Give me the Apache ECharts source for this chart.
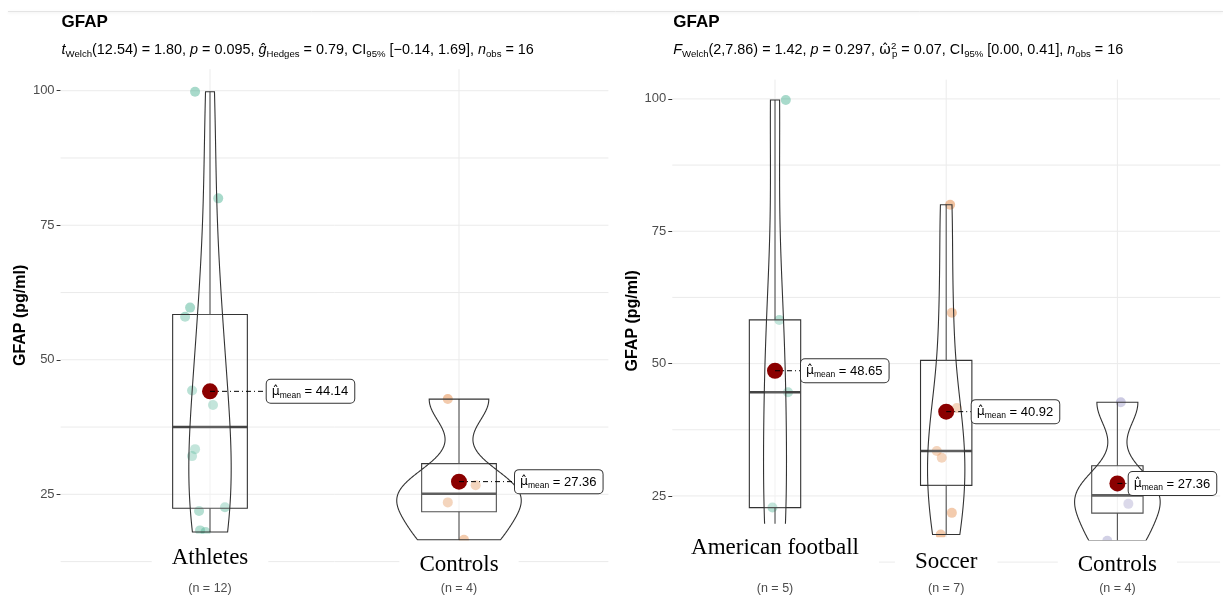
<!DOCTYPE html>
<html>
<head>
<meta charset="utf-8">
<script src="https://cdn.jsdelivr.net/npm/echarts@6/dist/echarts.min.js"></script>
<style>
  html, body { margin: 0; padding: 0; background: #fff; }
  #chart { width: 1223px; height: 596px; }
</style>
</head>
<body>
<div id="chart"></div>
<script>
// ---- data: GFAP (pg/ml) per participant ----
const leftGroups = ['Athletes', 'Controls'];
const leftCounts = ['(n = 12)', '(n = 4)'];
const athletesGFAP = [99.8, 80.0, 59.7, 58.0, 44.3, 41.6, 33.4, 32.1, 21.9, 22.6, 18.3, 18.0];
const controlsGFAP = [42.7, 26.7, 23.5, 16.54];
const leftMeans = [44.14, 27.36];

const rightGroups = ['American football', 'Soccer', 'Controls'];
const rightCounts = ['(n = 5)', '(n = 7)', '(n = 4)'];
const footballGFAP = [99.8, 58.25, 44.6, 22.8, 17.8];
const soccerGFAP = [80.0, 59.6, 41.6, 33.5, 32.2, 21.8, 17.7];
const rightMeans = [48.65, 40.92, 27.36];

const yTicks = [25, 50, 75, 100];
const yGridValues = [12.5, 25, 37.5, 50, 62.5, 75, 87.5, 100];

// horizontal jitter of the raw points, in category widths
const athletesJitter = [-0.06, 0.033, -0.08, -0.1, -0.072, 0.012, -0.06, -0.072, -0.044, 0.06, -0.04, -0.018];
const controlsJitterLeft = [-0.045, 0.067, -0.045, 0.02];
const footballJitter = [0.063, 0.025, 0.076, -0.015, -0.03];
const soccerJitter = [0.023, 0.033, 0.062, -0.055, -0.026, 0.033, -0.032];
const controlsJitterRight = [0.02, 0.0, 0.064, -0.059];

// ---- helpers: quantiles (type 7), bandwidth nrd0, gaussian KDE ----
const FONT = 'Liberation Sans';
const PALETTE = ['#1B9E77', '#D95F02', '#7570B3'];
const sorted = a => a.slice().sort((x, y) => x - y);
function quantile(s, p) {
  const h = (s.length - 1) * p, lo = Math.floor(h), hi = Math.min(lo + 1, s.length - 1);
  return s[lo] + (h - lo) * (s[hi] - s[lo]);
}
function sd(a) {
  const m = a.reduce((s, v) => s + v, 0) / a.length;
  return Math.sqrt(a.reduce((s, v) => s + (v - m) * (v - m), 0) / (a.length - 1));
}
function bwNrd0(a) {
  const s = sorted(a);
  const hi = sd(a);
  let lo = Math.min(hi, (quantile(s, 0.75) - quantile(s, 0.25)) / 1.34);
  if (!(lo > 0)) lo = hi || 1;
  return 0.9 * lo * Math.pow(a.length, -0.2);
}
function density(a, m) {
  const bw = bwNrd0(a), s = sorted(a), lo = s[0], hi = s[s.length - 1];
  const out = [];
  for (let k = 0; k < m; k++) {
    const y = lo + (hi - lo) * k / (m - 1);
    let d = 0;
    for (const v of a) { const z = (y - v) / bw; d += Math.exp(-0.5 * z * z); }
    out.push([y, d / (a.length * bw * Math.sqrt(2 * Math.PI))]);
  }
  return out;
}
function boxStats(a) {
  const s = sorted(a);
  const q1 = quantile(s, 0.25), med = quantile(s, 0.5), q3 = quantile(s, 0.75), iqr = q3 - q1;
  const wLo = Math.min(...s.filter(v => v >= q1 - 1.5 * iqr));
  const wHi = Math.max(...s.filter(v => v <= q3 + 1.5 * iqr));
  return { q1, med, q3, wLo, wHi };
}

// ---- rich text styles ----
const subRich = {
  n: { fontSize: 14.4, fontFamily: FONT, color: '#000', lineHeight: 18 },
  it: { fontSize: 14.4, fontFamily: FONT, fontStyle: 'italic', color: '#000', lineHeight: 18 },
  om: { fontSize: 14.4, fontFamily: 'DejaVu Sans', color: '#000', lineHeight: 18 },
  sub: { fontSize: 9.6, fontFamily: FONT, color: '#000', verticalAlign: 'bottom', lineHeight: 9 },
  subp: { fontSize: 9.6, fontFamily: FONT, color: '#000', verticalAlign: 'bottom', lineHeight: 9 },
  sup: { fontSize: 9.6, fontFamily: FONT, color: '#000', verticalAlign: 'top', lineHeight: 8, width: 1 }
};
const meanRich = {
  mu: { fontSize: 12.5, fontFamily: 'DejaVu Sans', color: '#000', lineHeight: 16 },
  sub: { fontSize: 8.5, fontFamily: FONT, color: '#000', verticalAlign: 'bottom', lineHeight: 8 },
  t: { fontSize: 13, fontFamily: FONT, color: '#000', lineHeight: 16 }
};

const panels = [
  {
    groups: leftGroups, counts: leftCounts, values: [athletesGFAP, controlsGFAP],
    jitter: [athletesJitter, controlsJitterLeft], means: leftMeans, colors: [PALETTE[0], PALETTE[1]],
    yMax: 104, grid: { left: 60.6, top: 69.2, width: 547.8, height: 492.4 },
    labelShift: [56.7, 56], nameDy: [-3.6, 3.4],
    subtitle: '{it|t}{sub|Welch}{n|(12.54) = 1.80, }{it|p}{n| = 0.095, }{it|\u011D}{sub|Hedges}{n| = 0.79, CI}{sub|95%}{n| [\u22120.14, 1.69], }{it|n}{sub|obs}{n| = 16}'
  },
  {
    groups: rightGroups, counts: rightCounts, values: [footballGFAP, soccerGFAP, controlsGFAP],
    jitter: [footballJitter, soccerJitter, controlsJitterRight], means: rightMeans, colors: PALETTE,
    yMax: 103.65, grid: { left: 672.3, top: 79.6, width: 547.8, height: 482.5 },
    labelShift: [26, 25.5, 11.3], nameDy: [-13.8, -0.4, 2.9],
    subtitle: '{it|F}{sub|Welch}{n|(2,7.86) = 1.42, }{it|p}{n| = 0.297, }{om|\u03C9\u0302}{sup|2}{subp|p}{n| = 0.07, CI}{sub|95%}{n| [0.00, 0.41], }{it|n}{sub|obs}{n| = 16}'
  }
];

const grids = [], xAxes = [], yAxes = [], titles = [], series = [];

panels.forEach((P, pi) => {
  const ax = { xAxisIndex: pi, yAxisIndex: pi };
  const k = P.groups.length;
  const cats = P.groups.map((_, i) => i + 1);
  const dens = P.values.map(v => density(v, 512));
  const maxD = Math.max(...dens.map(d => Math.max(...d.map(p => p[1]))));
  const stats = P.values.map(boxStats);

  grids.push(P.grid);
  titles.push({
    text: 'GFAP', left: P.grid.left + 1, top: 14, padding: 0, itemGap: 10,
    textStyle: { fontSize: 17, fontWeight: 'bold', color: '#000', fontFamily: FONT },
    subtext: P.subtitle, subtextStyle: { rich: subRich }
  });
  xAxes.push({
    type: 'value', gridIndex: pi, min: 0.4, max: k + 0.6,
    axisLine: { show: false }, axisTick: { show: false }, splitLine: { show: false },
    axisLabel: {
      customValues: cats, formatter: v => P.counts[Math.round(v) - 1],
      color: '#4D4D4D', fontSize: 12.5, fontFamily: FONT, margin: 20
    }
  });
  yAxes.push({
    type: 'value', gridIndex: pi, min: 12.5, max: P.yMax, interval: 12.5,
    axisLine: { show: false },
    axisTick: { show: true, customValues: yTicks, length: 4, lineStyle: { color: '#333' } },
    axisLabel: { customValues: yTicks, color: '#4D4D4D', fontSize: 13, fontFamily: FONT, margin: 6 },
    splitLine: { show: false },
    name: 'GFAP (pg/ml)', nameLocation: 'middle', nameGap: 32,
    nameTextStyle: { fontSize: 16, fontWeight: 'bold', color: '#000', fontFamily: FONT }
  });

  // horizontal grid lines (major and minor breaks)
  series.push({
    type: 'custom', ...ax, z: 1, silent: true, clip: false,
    data: yGridValues.map(v => [0.4, v]),
    renderItem: (params, api) => {
      const v = api.value(1);
      const a = api.coord([0.4, v]), b = api.coord([k + 0.6, v]);
      return { type: 'line', shape: { x1: a[0], y1: a[1], x2: b[0], y2: b[1] }, style: { stroke: '#EBEBEB', lineWidth: 1 } };
    }
  });

  // vertical grid lines at each group
  series.push({
    type: 'custom', ...ax, z: 1, silent: true, clip: false,
    data: cats.map(c => [c, 12.5]),
    renderItem: (params, api) => {
      const c = api.value(0);
      const a = api.coord([c, 12.5]), b = api.coord([c, P.yMax]);
      return { type: 'line', shape: { x1: a[0], y1: a[1], x2: b[0], y2: b[1] }, style: { stroke: '#EBEBEB', lineWidth: 1 } };
    }
  });

  // raw points
  P.values.forEach((vals, g) => {
    series.push({
      type: 'scatter', ...ax, z: 2, silent: true, symbolSize: 10,
      itemStyle: { color: P.colors[g], opacity: 0.38 },
      data: vals.map((v, j) => [g + 1 + P.jitter[g][j], v])
    });
  });

  // boxplots
  series.push({
    type: 'custom', ...ax, z: 3, silent: true, clip: false,
    data: cats.map((c, i) => [c, stats[i].med]),
    renderItem: (params, api) => {
      const g = params.dataIndex, c = g + 1, s = stats[g], hw = 0.15;
      const tl = api.coord([c - hw, s.q3]), br = api.coord([c + hw, s.q1]);
      const m1 = api.coord([c - hw, s.med]), m2 = api.coord([c + hw, s.med]);
      const wt = api.coord([c, s.wHi]), wb = api.coord([c, s.wLo]);
      const st = { stroke: '#333', lineWidth: 1.1, fill: null };
      return {
        type: 'group', children: [
          { type: 'line', shape: { x1: wt[0], y1: wt[1], x2: wt[0], y2: tl[1] }, style: st },
          { type: 'line', shape: { x1: wb[0], y1: wb[1], x2: wb[0], y2: br[1] }, style: st },
          { type: 'rect', shape: { x: tl[0], y: tl[1], width: br[0] - tl[0], height: br[1] - tl[1] }, style: { stroke: '#333', lineWidth: 1.1, fill: 'rgba(255,255,255,0.2)' } },
          { type: 'line', shape: { x1: m1[0], y1: m1[1], x2: m2[0], y2: m2[1] }, style: { stroke: '#444', lineWidth: 2.6 } }
        ]
      };
    }
  });

  // violins (area-scaled, trimmed to data range)
  series.push({
    type: 'custom', ...ax, z: 3, silent: true, clip: false,
    data: cats.map((c, i) => [c, stats[i].med]),
    renderItem: (params, api) => {
      const g = params.dataIndex, c = g + 1, d = dens[g];
      const left = d.map(p => api.coord([c - 0.25 * p[1] / maxD, p[0]]));
      const right = d.slice().reverse().map(p => api.coord([c + 0.25 * p[1] / maxD, p[0]]));
      return { type: 'polygon', shape: { points: left.concat(right) }, style: { stroke: '#333', lineWidth: 1.1, fill: 'rgba(255,255,255,0.15)' } };
    }
  });

  // group means
  series.push({
    type: 'scatter', ...ax, z: 5, silent: true, symbolSize: 16,
    itemStyle: { color: '#8B0000', opacity: 1 },
    data: P.means.map((m, i) => [i + 1, m])
  });

  // mean labels with dot-dash leader
  series.push({
    type: 'custom', ...ax, z: 6, silent: true, clip: false,
    data: P.means.map((m, i) => [i + 1, m]),
    renderItem: (params, api) => {
      const g = params.dataIndex;
      const p = api.coord([api.value(0), api.value(1)]);
      const bx = p[0] + P.labelShift[g];
      return {
        type: 'group', children: [
          { type: 'line', shape: { x1: p[0], y1: p[1], x2: bx, y2: p[1] }, style: { stroke: '#000', lineWidth: 1, lineDash: [5, 3, 1, 3] } },
          {
            type: 'text', x: bx, y: p[1],
            style: {
              text: '{mu|\u03BC\u0302}{sub|mean}{t| = ' + P.means[g].toFixed(2) + '}', rich: meanRich,
              align: 'left', verticalAlign: 'middle',
              backgroundColor: '#fff', borderColor: '#333', borderWidth: 1, borderRadius: 4,
              padding: [4, 6, 3, 5]
            }
          }
        ]
      };
    }
  });

  // group names set under each violin
  series.push({
    type: 'custom', ...ax, z: 7, silent: true, clip: false,
    data: cats.map(c => [c, 12.5]),
    renderItem: (params, api) => {
      const g = params.dataIndex;
      const p = api.coord([api.value(0), 12.5]);
      return {
        type: 'text', x: p[0], y: p[1] + P.nameDy[g] - 11.5 - 13,
        style: {
          text: P.groups[g], fontSize: 23, fontFamily: 'Liberation Serif', fill: '#000',
          lineHeight: 23, align: 'center', verticalAlign: 'top',
          backgroundColor: '#fff', padding: [13, 20, 6, 20]
        }
      };
    }
  });
});

const chart = echarts.init(document.getElementById('chart'), null, { renderer: 'canvas' });
chart.setOption({
  animation: false,
  backgroundColor: '#fff',
  textStyle: { fontFamily: FONT },
  title: titles,
  grid: grids,
  xAxis: xAxes,
  yAxis: yAxes,
  series: series,
  graphic: [{
    type: 'line', silent: true, z: 100,
    shape: { x1: 8, y1: 11.5, x2: 1223, y2: 11.5 },
    style: { stroke: '#E4E4E4', lineWidth: 1, shadowBlur: 3, shadowColor: 'rgba(0,0,0,0.10)', shadowOffsetY: 1 }
  }]
});
</script>
</body>
</html>
